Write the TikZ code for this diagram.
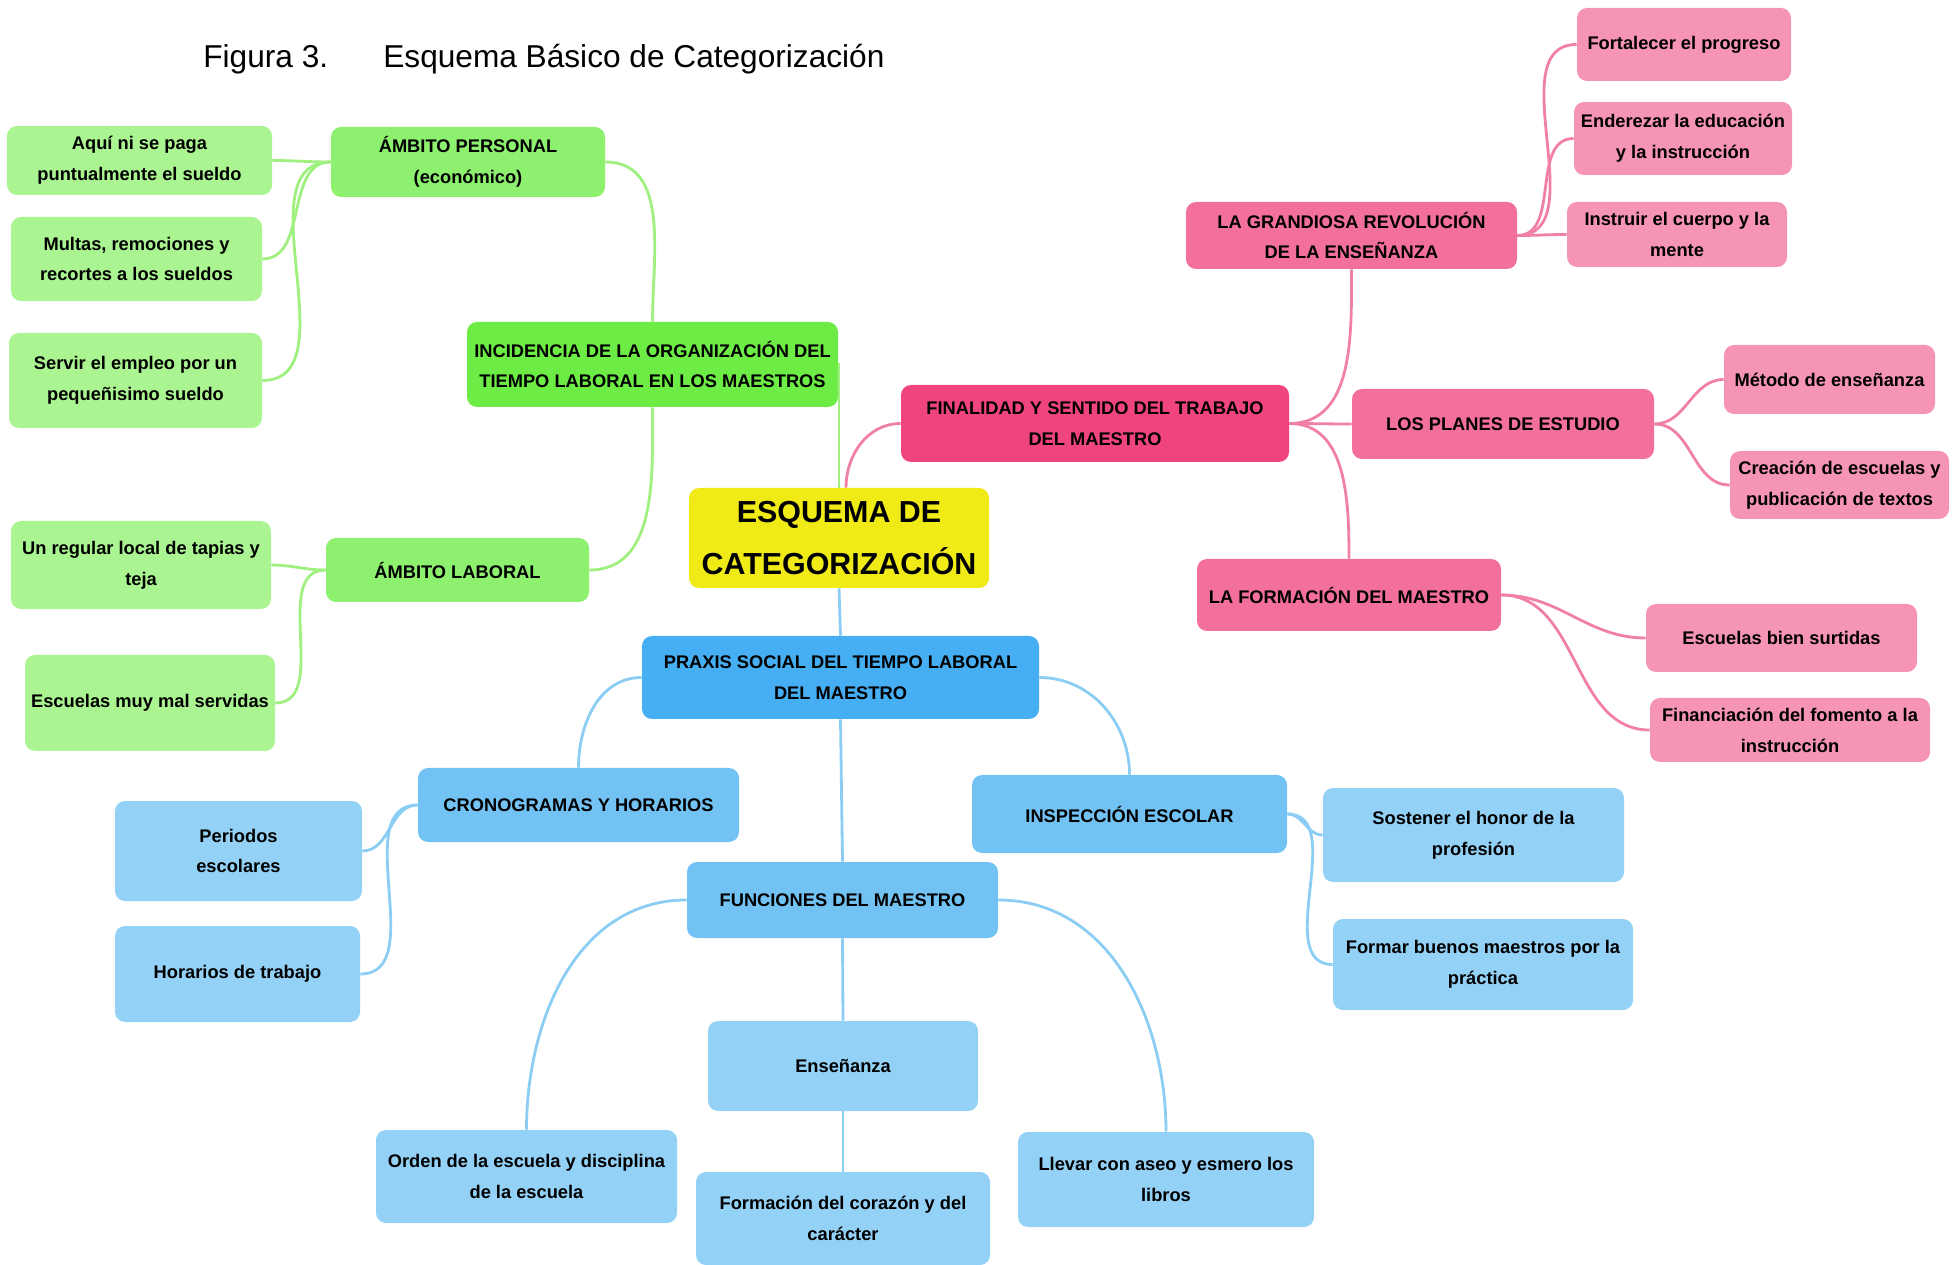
\documentclass[tikz,border=0pt]{standalone}
\usepackage{fontspec}
\setmainfont{Liberation Sans}
\definecolor{yelcol}{RGB}{240,234,22}
\definecolor{g1col}{RGB}{110,236,70}
\definecolor{g2col}{RGB}{141,240,110}
\definecolor{g3col}{RGB}{170,245,145}
\definecolor{glcol}{RGB}{160,240,128}
\definecolor{p1col}{RGB}{240,68,126}
\definecolor{p2col}{RGB}{242,112,153}
\definecolor{p3col}{RGB}{245,148,180}
\definecolor{plcol}{RGB}{240,128,166}
\definecolor{b1col}{RGB}{70,174,242}
\definecolor{b2col}{RGB}{114,194,244}
\definecolor{b3col}{RGB}{148,209,246}
\definecolor{blcol}{RGB}{140,205,244}
\begin{document}
\begin{tikzpicture}[x = 0.2mm, y = -0.2mm,
  box/.style = {rounded corners = 2mm, align = center, inner sep = 0pt,
    font = \fontsize{10.4}{17.6}\selectfont\bfseries},
  sz/.style 2 args = {minimum width = #1*0.2mm, minimum height = #2*0.2mm},
  g1box/.style = {box, fill = g1col}, g2box/.style = {box, fill = g2col}, g3box/.style = {box, fill = g3col},
  p1box/.style = {box, fill = p1col}, p2box/.style = {box, fill = p2col}, p3box/.style = {box, fill = p3col},
  b1box/.style = {box, fill = b1col}, b2box/.style = {box, fill = b2col}, b3box/.style = {box, fill = b3col},
  glink/.style = {draw = glcol, line width = 1.6pt},
  plink/.style = {draw = plcol, line width = 1.6pt},
  blink/.style = {draw = blcol, line width = 1.6pt}]
\useasboundingbox (0,0) rectangle (1956,1265);
\node[anchor = base west, inner sep = 0pt, font = \fontsize{18}{20}\selectfont] (fig) at (203,68) {Figura 3.};
\node[anchor = base west, inner sep = 0pt, font = \fontsize{18}{20}\selectfont] (tit) at (383,68) {Esquema Básico de Categorización};
\node[box, fill = yelcol, sz = {300}{100}, font = \fontsize{17.3}{30}\selectfont\bfseries] (cen) at (839,538) {ESQUEMA DE\\CATEGORIZACIÓN};
\node[g1box, sz = {371}{85}] (inc) at (652.5,364.5) {INCIDENCIA DE LA ORGANIZACIÓN DEL\\TIEMPO LABORAL EN LOS MAESTROS};
\node[g2box, sz = {274}{70}] (ap) at (468,162) {ÁMBITO PERSONAL\\(económico)};
\node[g2box, sz = {263}{64}] (al) at (457.5,570) {ÁMBITO LABORAL};
\node[g3box, sz = {265}{69}] (a1) at (139.5,160.5) {Aquí ni se paga\\puntualmente el sueldo};
\node[g3box, sz = {251}{84}] (a2) at (136.5,259) {Multas, remociones y\\recortes a los sueldos};
\node[g3box, sz = {253}{95}] (a3) at (135.5,380.5) {Servir el empleo por un\\pequeñisimo sueldo};
\node[g3box, sz = {260}{88}] (l1) at (141,565) {Un regular local de tapias y\\teja};
\node[g3box, sz = {250}{96}] (l2) at (150,703) {Escuelas muy mal servidas};
\node[p1box, sz = {388}{77}] (fin) at (1095,423.5) {FINALIDAD Y SENTIDO DEL TRABAJO\\DEL MAESTRO};
\node[p2box, sz = {331}{67}] (gr) at (1351.5,235.5) {LA GRANDIOSA REVOLUCIÓN\\DE LA ENSEÑANZA};
\node[p2box, sz = {302}{70}] (pl) at (1503,424) {LOS PLANES DE ESTUDIO};
\node[p2box, sz = {304}{72}] (fm) at (1349,595) {LA FORMACIÓN DEL MAESTRO};
\node[p3box, sz = {214}{73}] (r1) at (1684,44.5) {Fortalecer el progreso};
\node[p3box, sz = {218}{73}] (r2) at (1683,138.5) {Enderezar la educación\\y la instrucción};
\node[p3box, sz = {220}{65}] (r3) at (1677,234.5) {Instruir el cuerpo y la\\mente};
\node[p3box, sz = {211}{69}] (s1) at (1829.5,379.5) {Método de enseñanza};
\node[p3box, sz = {219}{68}] (s2) at (1839.5,485) {Creación de escuelas y\\publicación de textos};
\node[p3box, sz = {271}{68}] (t1) at (1781.5,638) {Escuelas bien surtidas};
\node[p3box, sz = {280}{64}] (t2) at (1790,730) {Financiación del fomento a la\\instrucción};
\node[b1box, sz = {397}{83}] (pr) at (840.5,677.5) {PRAXIS SOCIAL DEL TIEMPO LABORAL\\DEL MAESTRO};
\node[b2box, sz = {321}{74}] (cr) at (578.5,805) {CRONOGRAMAS Y HORARIOS};
\node[b2box, sz = {315}{78}] (ins) at (1129.5,814) {INSPECCIÓN ESCOLAR};
\node[b2box, sz = {311}{76}] (fu) at (842.5,900) {FUNCIONES DEL MAESTRO};
\node[b3box, sz = {247}{100}] (c1) at (238.5,851) {Periodos\\escolares};
\node[b3box, sz = {245}{96}] (c2) at (237.5,974) {Horarios de trabajo};
\node[b3box, sz = {301}{94}] (i1) at (1473.5,835) {Sostener el honor de la\\profesión};
\node[b3box, sz = {300}{91}] (i2) at (1483,964.5) {Formar buenos maestros por la\\práctica};
\node[b3box, sz = {270}{90}] (en) at (843,1066) {Enseñanza};
\node[b3box, sz = {301}{93}] (od) at (526.5,1176.5) {Orden de la escuela y disciplina\\de la escuela};
\node[b3box, sz = {294}{93}] (fc) at (843,1218.5) {Formación del corazón y del\\carácter};
\node[b3box, sz = {296}{95}] (ll) at (1166,1179.5) {Llevar con aseo y esmero los\\libros};
\draw[glink] (cen.north) |- (inc.east);
\draw[glink] (inc.north) to[out = 90, in = 0] (ap.east);
\draw[glink] (inc.south) to[out = -90, in = 0] (al.east);
\draw[glink] (ap.west) to[out = 180, in = 0] (a1.east);
\draw[glink] (ap.west) to[out = 180, in = 0] (a2.east);
\draw[glink] (ap.west) to[out = 180, in = 0] (a3.east);
\draw[glink] (al.west) to[out = 180, in = 0] (l1.east);
\draw[glink] (al.west) to[out = 180, in = 0] (l2.east);
\draw[plink] ([xshift = 4]cen.north) to[out = 90, in = 180] (fin.west);
\draw[plink] (fin.east) to[out = 0, in = -90] (gr.south);
\draw[plink] (fin.east) to[out = 0, in = 180] (pl.west);
\draw[plink] (fin.east) to[out = 0, in = 90] (fm.north);
\draw[plink] (gr.east) to[out = 0, in = 180] (r1.west);
\draw[plink] (gr.east) to[out = 0, in = 180] (r2.west);
\draw[plink] (gr.east) to[out = 0, in = 180] (r3.west);
\draw[plink] (pl.east) to[out = 0, in = 180] (s1.west);
\draw[plink] (pl.east) to[out = 0, in = 180] (s2.west);
\draw[plink] (fm.east) to[out = 0, in = 180] (t1.west);
\draw[plink] (fm.east) to[out = 0, in = 180] (t2.west);
\draw[blink] (cen.south) -- (pr.north);
\draw[blink] (pr.west) to[out = 180, in = 90] (cr.north);
\draw[blink] (pr.east) to[out = 0, in = 90] (ins.north);
\draw[blink] (pr.south) -- (fu.north);
\draw[blink] (cr.west) to[out = 180, in = 0] (c1.east);
\draw[blink] (cr.west) to[out = 180, in = 0] (c2.east);
\draw[blink] (ins.east) to[out = 0, in = 180] (i1.west);
\draw[blink] (ins.east) to[out = 0, in = 180] (i2.west);
\draw[blink] (fu.west) to[out = 180, in = 90] (od.north);
\draw[blink] (fu.east) to[out = 0, in = 90] (ll.north);
\draw[blink] (fu.south) -- (en.north);
\draw[blink] (en.south) -- (fc.north);
\end{tikzpicture}
\end{document}
